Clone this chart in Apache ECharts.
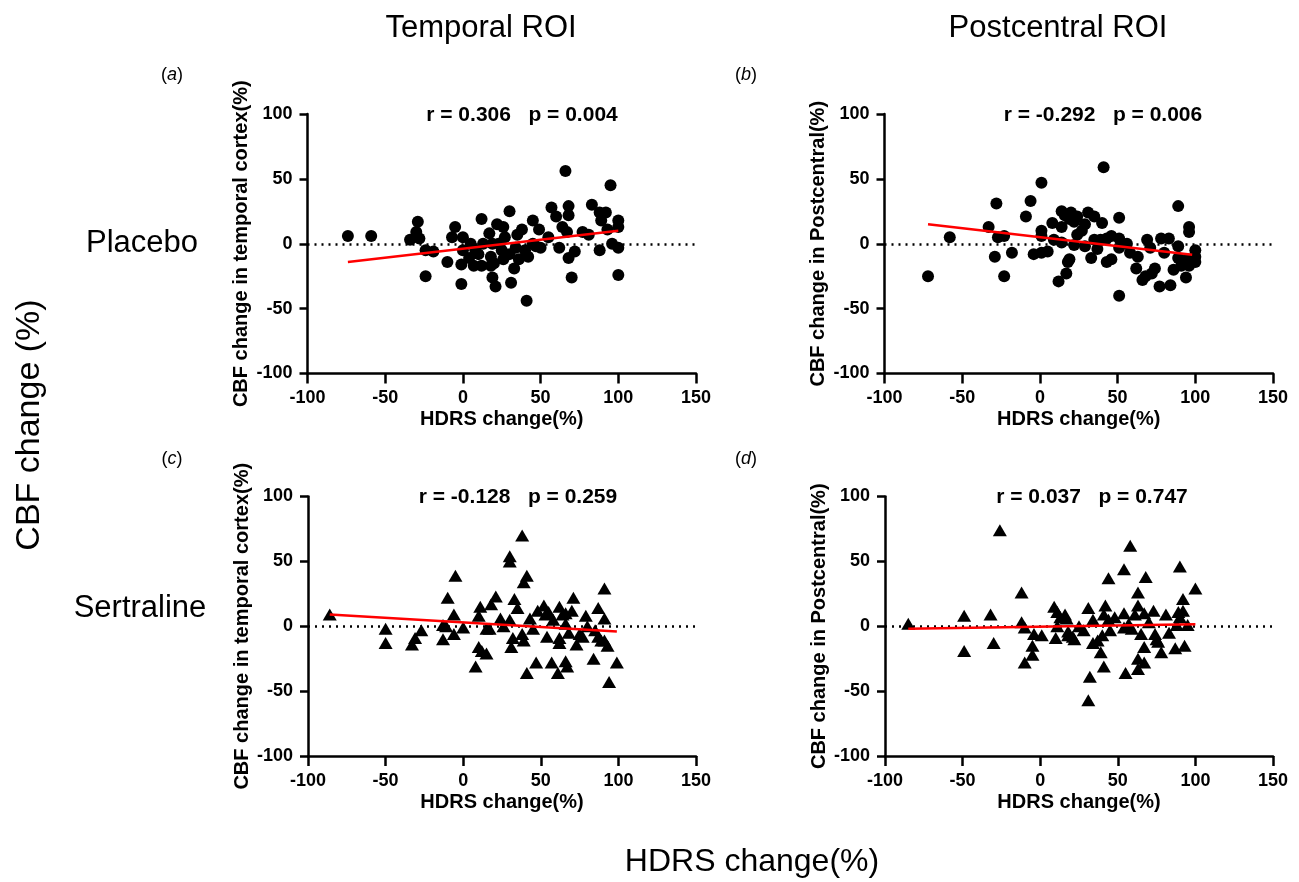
<!DOCTYPE html>
<html><head><meta charset="utf-8">
<script src="https://cdn.jsdelivr.net/npm/echarts@6/dist/echarts.min.js"></script>
<style>html,body{margin:0;padding:0;background:#fff}#c{width:1299px;height:882px}</style>
</head><body><div id="c"></div>
<script>
// ---- data ----
const xTickLabels = [-100, -50, 0, 50, 100, 150];
const yTickLabels = [-100, -50, 0, 50, 100];
const columnTitles = ['Temporal ROI', 'Postcentral ROI'];
const rowTitles = ['Placebo', 'Sertraline'];
const panelLetters = ['a', 'b', 'c', 'd'];
const yNames = ['CBF change in temporal cortex(%)', 'CBF change in Postcentral(%)', 'CBF change in temporal cortex(%)', 'CBF change in Postcentral(%)'];
const xName = 'HDRS change(%)';
const stats = ['r = 0.306   p = 0.004', 'r = -0.292   p = 0.006', 'r = -0.128   p = 0.259', 'r = 0.037   p = 0.747'];

const placeboTemporal = [
[-74,6],[-59,6],[-29,17],[-30,9],[-34,3],[-28,4],[-24,-5],[-19,-6],[-24,-25],[-10,-14],
[-5,13],[-7,5],[0,5],[0,-5],[-1,-16],[-1,-31],[4,-11],[7,-17],[12,-17],[12,19],
[17,8],[18,-10],[18,-17],[19,-26],[21,-33],[22,15],[66,56],[95,45],[30,25],[57,28],
[68,29],[68,22],[60,21],[83,30],[88,24],[92,24],[89,18],[100,18],[100,13],[93,11],
[45,18],[26,13],[38,11],[49,11],[64,13],[67,9],[77,9],[81,7],[19,0],[25,-5],
[34,-3],[40,-5],[47,-2],[50,-3],[42,-10],[62,-3],[72,-6],[68,-11],[88,-5],[96,0],
[100,-3],[100,-24],[70,-26],[20,-15],[26,-12],[33,-19],[31,-30],[41,-44],[23,0],[8,-5],
[13,0],[27,5],[35,7],[45,0],[55,5],[10,-8],[30,-8],[36,-12],[5,0]
];
const placeboPostcentral = [
[-72,-25],[-58,5],[-33,13],[-28,31],[-27,5],[-23,6],[-29,-10],[-18,-7],[-23,-25],[-9,21],
[-6,33],[1,47],[1,10],[1,6],[-4,-8],[1,-7],[5,-6],[8,16],[14,13],[14,25],
[16,22],[19,19],[14,1],[18,-14],[17,-23],[12,-29],[41,59],[89,29],[20,24],[31,24],
[35,21],[24,21],[29,15],[22,17],[40,16],[51,20],[24,7],[22,-1],[29,-2],[35,3],
[39,3],[43,4],[46,6],[51,4],[33,-11],[43,-14],[46,-12],[19,-12],[51,-3],[51,-40],
[58,-7],[63,-10],[62,-19],[69,3],[71,-3],[78,4],[83,4],[74,-19],[72,-23],[68,-25],
[66,-28],[77,-33],[84,-32],[89,-2],[96,13],[96,9],[89,-11],[95,-12],[91,-17],[96,-17],
[94,-26],[100,-5],[100,-10],[100,-14],[27,10],[9,3],[56,0],[37,-4],[80,-7],[86,-20]
];
const sertralineTemporal = [
[-86,9],[-50,-2],[-50,-13],[-33,-14],[-31,-9],[-27,-3],[-5,39],[-10,22],[-6,9],[-13,1],
[-11,0],[-13,-10],[-6,-6],[0,-1],[11,15],[10,8],[18,17],[21,23],[15,-2],[10,-16],
[12,-19],[15,-21],[8,-31],[38,70],[30,54],[30,50],[41,39],[39,34],[33,21],[35,14],
[30,5],[26,0],[43,6],[52,16],[53,9],[55,11],[62,15],[64,9],[66,10],[71,22],
[79,8],[87,14],[91,29],[91,6],[66,2],[68,-5],[54,-8],[62,-9],[62,-13],[75,-6],
[77,-8],[73,-14],[87,-8],[89,-11],[91,-11],[17,-2],[38,-6],[32,-9],[39,-11],[31,-16],
[47,-28],[57,-28],[66,-27],[67,-31],[41,-36],[61,-36],[84,-25],[99,-28],[94,-43],[58,5],
[45,-2],[80,0],[24,6],[70,12],[85,-3],[48,12],[93,-15]
];
const sertralinePostcentral = [
[-85,2],[-26,74],[-49,8],[-49,-19],[-32,9],[-30,-13],[-12,26],[-12,3],[-10,-1],[-4,-6],
[1,-7],[-5,-15],[-5,-22],[-10,-28],[9,15],[11,11],[13,7],[16,7],[11,0],[10,-9],
[18,-7],[58,62],[90,46],[54,44],[44,37],[68,38],[100,29],[63,26],[63,16],[92,21],
[92,12],[89,11],[90,7],[31,14],[42,16],[41,9],[44,5],[48,7],[54,10],[61,9],
[67,10],[73,12],[81,9],[16,9],[17,6],[34,5],[28,-3],[88,1],[95,1],[54,-1],
[59,-2],[57,2],[18,-4],[21,-8],[22,-10],[40,-7],[37,-11],[34,-13],[39,-20],[65,-6],
[67,-16],[74,-6],[75,-10],[76,-12],[78,-20],[87,-17],[93,-15],[63,-25],[67,-28],[63,-33],
[41,-31],[32,-39],[55,-36],[31,-57],[25,0],[45,-3],[83,-5],[70,3]
];
// fitted line end points (as drawn in the reference)
const fitPlaceboTemporal = [[-74,-14],[100,10]];
const fitPlaceboPostcentral = [[-72,15],[98,-8.5]];
const fitSertralineTemporal = [[-86,9],[99,-4]];
const fitSertralinePostcentral = [[-85,-2],[100,1.5]];

// ---- layout ----
const FF = 'Liberation Sans, Arial, Helvetica, sans-serif';
const panels = [
  {grid:{left:307.5, top:114, width:388.5, height:259.5}, data:placeboTemporal, fit:fitPlaceboTemporal, sym:'circle', size:12},
  {grid:{left:884.5, top:114, width:388.5, height:259.5}, data:placeboPostcentral, fit:fitPlaceboPostcentral, sym:'circle', size:12},
  {grid:{left:308, top:496.5, width:388, height:259.5}, data:sertralineTemporal, fit:fitSertralineTemporal, sym:'triangle', size:[14,12]},
  {grid:{left:885, top:496.5, width:388, height:259.5}, data:sertralinePostcentral, fit:fitSertralinePostcentral, sym:'triangle', size:[14,12]}
];

const axisLine = {show:true, onZero:false, lineStyle:{color:'#000', width:2.5}};
const axisTick = {show:true, inside:false, lineStyle:{color:'#000', width:2.5}};
const grids = [], xAxes = [], yAxes = [], series = [];
panels.forEach((p, i) => {
  grids.push(p.grid);
  xAxes.push({
    type:'value', gridIndex:i,
    min:xTickLabels[0], max:xTickLabels[xTickLabels.length-1], interval:xTickLabels[1]-xTickLabels[0],
    axisLine, axisTick:Object.assign({length:10}, axisTick),
    axisLabel:{color:'#000', fontSize:18, fontWeight:'bold', fontFamily:FF, margin:16},
    splitLine:{show:false},
    name:xName, nameLocation:'middle', nameGap:36,
    nameTextStyle:{color:'#000', fontSize:20, fontWeight:'bold', fontFamily:FF}
  });
  yAxes.push({
    type:'value', gridIndex:i,
    min:yTickLabels[0], max:yTickLabels[yTickLabels.length-1], interval:yTickLabels[1]-yTickLabels[0],
    axisLine, axisTick:Object.assign({length:8}, axisTick),
    axisLabel:{color:'#000', fontSize:18, fontWeight:'bold', fontFamily:FF, margin:15},
    splitLine:{show:false},
    name:yNames[i], nameLocation:'middle', nameGap:56, nameRotate:90,
    nameTextStyle:{color:'#000', fontSize:20, fontWeight:'bold', fontFamily:FF}
  });
  series.push({
    type:'scatter', xAxisIndex:i, yAxisIndex:i, data:p.data,
    symbol:p.sym, symbolSize:p.size, itemStyle:{color:'#000', opacity:1}, silent:true, z:3,
    markLine:{silent:true, symbol:['none','none'], label:{show:false},
      lineStyle:{color:'#000', width:2.5, type:[2,5]}, data:[{yAxis:0}], z:1}
  });
  series.push({
    type:'line', xAxisIndex:i, yAxisIndex:i, data:p.fit, symbol:'none',
    lineStyle:{color:'#ff0000', width:2.5}, silent:true, z:4
  });
});

function txt(x, y, text, size, weight, extra) {
  return Object.assign({type:'text', x, y, style:Object.assign({text, fill:'#000', font:(weight||'normal')+' '+size+'px '+FF, textAlign:'center', textVerticalAlign:'middle'}, extra||{})});
}
const letterPos = [[172,75],[746,75],[172,459],[746,459]];
const statPos = [[522,115],[1103,115],[518,497],[1092,497]];
const graphics = [
  txt(481, 28, columnTitles[0], 31),
  txt(1058, 28, columnTitles[1], 31),
  txt(142, 243, rowTitles[0], 31),
  txt(140, 608, rowTitles[1], 31),
  {type:'text', x:30, y:425, rotation:Math.PI/2, style:{text:'CBF change (%)', fill:'#000', font:'normal 34px '+FF, textAlign:'center', textVerticalAlign:'middle'}},
  txt(752, 862, xName, 32)
];
panelLetters.forEach((l, i) => {
  graphics.push({type:'text', x:letterPos[i][0], y:letterPos[i][1], style:{
    text:'(' + '{i|' + l + '})', fill:'#000', font:'normal 18px '+FF, textAlign:'center', textVerticalAlign:'middle',
    rich:{i:{fontStyle:'italic', fontSize:18, fontFamily:FF, fill:'#000'}}}});
  graphics.push(txt(statPos[i][0], statPos[i][1], stats[i], 21, 'bold'));
});

const chart = echarts.init(document.getElementById('c'), null, {renderer:'canvas'});
chart.setOption({
  animation:false, backgroundColor:'#fff',
  grid:grids, xAxis:xAxes, yAxis:yAxes, series, graphic:graphics
});
</script></body></html>
